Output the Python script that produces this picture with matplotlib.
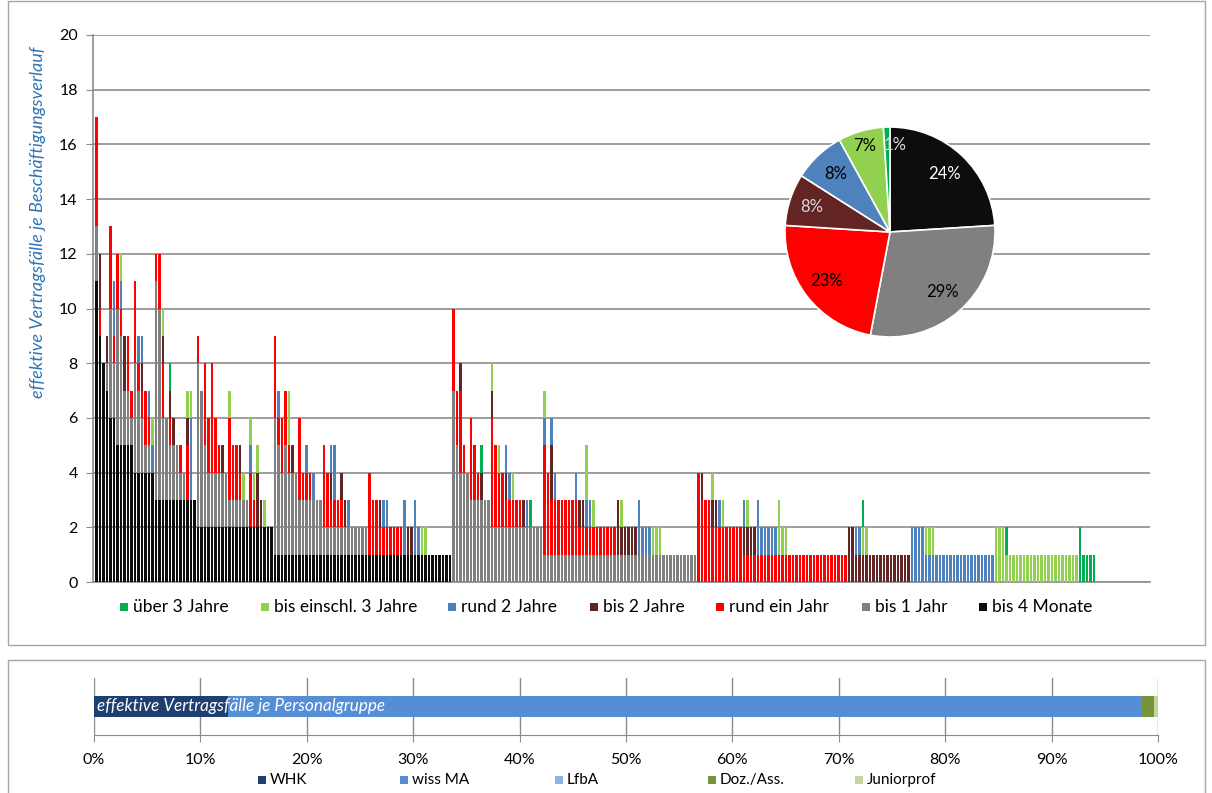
import matplotlib
matplotlib.use("Agg")
import matplotlib.pyplot as plt
from matplotlib.patches import Rectangle
import numpy as np

plt.rcParams['font.family'] = ['Lato', 'DejaVu Sans']

# ---------------------------------------------------------------------------
# Data: effective contract cases per employment history, one bar per history
# ---------------------------------------------------------------------------
series_names = ["bis 4 Monate", "bis 1 Jahr", "rund ein Jahr", "bis 2 Jahre",
                "rund 2 Jahre", "bis einschl. 3 Jahre", "über 3 Jahre"]
series_colors = ["#0d0d0d", "#808080", "#ff0000", "#632523",
                 "#4f81bd", "#92d050", "#00b050"]

bis_4_monate = [
    11, 9, 8, 7, 6, 6, 5, 5, 5, 5, 5, 4, 4, 4, 4, 4, 4, 3, 3, 3,
    3, 3, 3, 3, 3, 3, 3, 3, 3, 2, 2, 2, 2, 2, 2, 2, 2, 2, 2, 2,
    2, 2, 2, 2, 2, 2, 2, 2, 2, 2, 2, 1, 1, 1, 1, 1, 1, 1, 1, 1,
    1, 1, 1, 1, 1, 1, 1, 1, 1, 1, 1, 1, 1, 1, 1, 1, 1, 1, 1, 1,
    1, 1, 1, 1, 1, 1, 1, 1, 1, 1, 1, 1, 1, 1, 1, 1, 1, 1, 1, 1,
    1, 1, 0, 0, 0, 0, 0, 0, 0, 0, 0, 0, 0, 0, 0, 0, 0, 0, 0, 0,
    0, 0, 0, 0, 0, 0, 0, 0, 0, 0, 0, 0, 0, 0, 0, 0, 0, 0, 0, 0,
    0, 0, 0, 0, 0, 0, 0, 0, 0, 0, 0, 0, 0, 0, 0, 0, 0, 0, 0, 0,
    0, 0, 0, 0, 0, 0, 0, 0, 0, 0, 0, 0, 0, 0, 0, 0, 0, 0, 0, 0,
    0, 0, 0, 0, 0, 0, 0, 0, 0, 0, 0, 0, 0, 0, 0, 0, 0, 0, 0, 0,
    0, 0, 0, 0, 0, 0, 0, 0, 0, 0, 0, 0, 0, 0, 0, 0, 0, 0, 0, 0,
    0, 0, 0, 0, 0, 0, 0, 0, 0, 0, 0, 0, 0, 0, 0, 0, 0, 0, 0, 0,
    0, 0, 0, 0, 0, 0, 0, 0, 0, 0, 0, 0, 0, 0, 0, 0, 0, 0, 0, 0,
    0, 0, 0, 0, 0, 0, 0, 0, 0, 0, 0, 0, 0, 0, 0, 0, 0, 0, 0, 0,
    0, 0, 0, 0, 0, 0,
]
bis_1_jahr = [
    2, 0, 0, 1, 4, 2, 5, 4, 2, 2, 1, 4, 3, 2, 1, 1, 0, 8, 7, 3,
    3, 2, 2, 2, 1, 1, 0, 0, 0, 6, 5, 3, 2, 2, 2, 2, 2, 2, 1, 1,
    1, 1, 1, 1, 0, 0, 0, 0, 0, 0, 0, 5, 4, 3, 4, 3, 3, 3, 2, 2,
    2, 2, 2, 2, 2, 1, 1, 1, 1, 1, 1, 1, 1, 1, 1, 1, 1, 1, 0, 0,
    0, 0, 0, 0, 0, 0, 0, 0, 0, 0, 0, 0, 0, 0, 0, 0, 0, 0, 0, 0,
    0, 0, 7, 5, 4, 4, 4, 3, 3, 3, 3, 3, 3, 2, 2, 2, 2, 2, 2, 2,
    2, 2, 2, 2, 2, 2, 2, 2, 1, 1, 1, 1, 1, 1, 1, 1, 1, 1, 1, 1,
    1, 1, 1, 1, 1, 1, 1, 1, 1, 1, 1, 1, 1, 1, 1, 1, 1, 1, 1, 1,
    1, 1, 1, 1, 1, 1, 1, 1, 1, 1, 1, 1, 0, 0, 0, 0, 0, 0, 0, 0,
    0, 0, 0, 0, 0, 0, 0, 0, 0, 0, 0, 0, 0, 0, 0, 0, 0, 0, 0, 0,
    0, 0, 0, 0, 0, 0, 0, 0, 0, 0, 0, 0, 0, 0, 0, 0, 0, 0, 0, 0,
    0, 0, 0, 0, 0, 0, 0, 0, 0, 0, 0, 0, 0, 0, 0, 0, 0, 0, 0, 0,
    0, 0, 0, 0, 0, 0, 0, 0, 0, 0, 0, 0, 0, 0, 0, 0, 0, 0, 0, 0,
    0, 0, 0, 0, 0, 0, 0, 0, 0, 0, 0, 0, 0, 0, 0, 0, 0, 0, 0, 0,
    0, 0, 0, 0, 0, 0,
]
rund_ein_jahr = [
    4, 1, 0, 0, 3, 1, 2, 1, 0, 2, 1, 3, 1, 1, 2, 1, 0, 1, 2, 2,
    0, 1, 0, 0, 1, 0, 2, 0, 0, 1, 0, 3, 2, 4, 2, 1, 0, 0, 3, 2,
    2, 1, 0, 0, 2, 1, 0, 0, 0, 0, 0, 3, 1, 2, 2, 1, 0, 0, 3, 1,
    1, 1, 0, 0, 0, 3, 2, 1, 1, 1, 1, 0, 0, 0, 0, 0, 0, 0, 3, 2,
    2, 1, 1, 1, 1, 1, 1, 1, 0, 0, 0, 0, 0, 0, 0, 0, 0, 0, 0, 0,
    0, 0, 3, 2, 3, 1, 0, 3, 2, 1, 0, 0, 0, 4, 3, 2, 2, 1, 1, 1,
    1, 1, 0, 0, 0, 0, 0, 0, 4, 3, 2, 2, 2, 2, 2, 2, 2, 2, 1, 1,
    1, 1, 1, 1, 1, 1, 1, 1, 1, 0, 0, 0, 0, 0, 0, 0, 0, 0, 0, 0,
    0, 0, 0, 0, 0, 0, 0, 0, 0, 0, 0, 0, 4, 3, 3, 3, 2, 2, 2, 2,
    2, 2, 2, 2, 2, 1, 1, 1, 1, 1, 1, 1, 1, 1, 1, 1, 1, 1, 1, 1,
    1, 1, 1, 1, 1, 1, 1, 1, 1, 1, 1, 1, 1, 1, 1, 0, 0, 0, 0, 0,
    0, 0, 0, 0, 0, 0, 0, 0, 0, 0, 0, 0, 0, 0, 0, 0, 0, 0, 0, 0,
    0, 0, 0, 0, 0, 0, 0, 0, 0, 0, 0, 0, 0, 0, 0, 0, 0, 0, 0, 0,
    0, 0, 0, 0, 0, 0, 0, 0, 0, 0, 0, 0, 0, 0, 0, 0, 0, 0, 0, 0,
    0, 0, 0, 0, 0, 0,
]
bis_2_jahre = [
    0, 2, 0, 1, 0, 0, 0, 0, 2, 0, 0, 0, 0, 1, 0, 0, 0, 0, 0, 1,
    0, 1, 1, 0, 0, 0, 1, 0, 0, 0, 0, 0, 0, 0, 0, 0, 1, 0, 0, 0,
    0, 1, 0, 0, 0, 0, 2, 1, 0, 0, 0, 0, 0, 0, 0, 0, 1, 0, 0, 0,
    0, 0, 0, 0, 0, 0, 0, 1, 0, 0, 1, 1, 0, 0, 0, 0, 0, 0, 0, 0,
    0, 1, 0, 0, 0, 0, 0, 0, 0, 1, 1, 0, 0, 0, 0, 0, 0, 0, 0, 0,
    0, 0, 0, 0, 1, 0, 0, 0, 0, 0, 1, 0, 0, 1, 0, 0, 0, 1, 0, 0,
    0, 0, 1, 0, 0, 0, 0, 0, 0, 0, 2, 0, 0, 0, 0, 0, 0, 0, 1, 1,
    0, 0, 0, 0, 0, 0, 0, 0, 0, 2, 1, 1, 1, 1, 1, 0, 0, 0, 0, 0,
    0, 0, 0, 0, 0, 0, 0, 0, 0, 0, 0, 0, 0, 1, 0, 0, 1, 1, 0, 0,
    0, 0, 0, 0, 0, 1, 1, 1, 1, 0, 0, 0, 0, 0, 0, 0, 0, 0, 0, 0,
    0, 0, 0, 0, 0, 0, 0, 0, 0, 0, 0, 0, 0, 0, 0, 2, 2, 1, 1, 1,
    1, 1, 1, 1, 1, 1, 1, 1, 1, 1, 1, 1, 1, 0, 0, 0, 0, 0, 0, 0,
    0, 0, 0, 0, 0, 0, 0, 0, 0, 0, 0, 0, 0, 0, 0, 0, 0, 0, 0, 0,
    0, 0, 0, 0, 0, 0, 0, 0, 0, 0, 0, 0, 0, 0, 0, 0, 0, 0, 0, 0,
    0, 0, 0, 0, 0, 0,
]
rund_2_jahre = [
    0, 0, 0, 0, 0, 2, 0, 1, 0, 0, 0, 0, 1, 1, 0, 1, 1, 0, 0, 0,
    0, 0, 0, 0, 0, 0, 0, 3, 0, 0, 0, 0, 0, 0, 0, 0, 0, 0, 0, 0,
    0, 0, 0, 0, 1, 0, 0, 0, 0, 0, 0, 0, 1, 0, 0, 0, 0, 0, 0, 0,
    1, 0, 1, 0, 0, 0, 0, 1, 2, 0, 0, 0, 1, 0, 0, 0, 0, 0, 0, 0,
    0, 0, 1, 1, 0, 0, 0, 0, 2, 0, 0, 2, 1, 0, 0, 0, 0, 0, 0, 0,
    0, 0, 0, 0, 0, 0, 0, 0, 0, 0, 0, 0, 0, 0, 0, 0, 0, 1, 1, 0,
    0, 0, 0, 1, 0, 0, 0, 0, 1, 0, 1, 1, 0, 0, 0, 0, 0, 1, 0, 0,
    1, 1, 0, 0, 0, 0, 0, 0, 0, 0, 0, 0, 0, 0, 0, 2, 1, 1, 1, 0,
    0, 0, 0, 0, 0, 0, 0, 0, 0, 0, 0, 0, 0, 0, 0, 0, 0, 0, 1, 0,
    0, 0, 0, 0, 0, 1, 0, 0, 0, 2, 1, 1, 1, 1, 1, 0, 0, 0, 0, 0,
    0, 0, 0, 0, 0, 0, 0, 0, 0, 0, 0, 0, 0, 0, 0, 0, 0, 1, 1, 0,
    0, 0, 0, 0, 0, 0, 0, 0, 0, 0, 0, 0, 0, 2, 2, 2, 2, 1, 1, 1,
    1, 1, 1, 1, 1, 1, 1, 1, 1, 1, 1, 1, 1, 1, 1, 1, 1, 0, 0, 0,
    0, 0, 0, 0, 0, 0, 0, 0, 0, 0, 0, 0, 0, 0, 0, 0, 0, 0, 0, 0,
    0, 0, 0, 0, 0, 0,
]
bis_einschl_3_jahre = [
    0, 0, 0, 0, 0, 0, 0, 1, 0, 0, 0, 0, 0, 0, 0, 0, 1, 0, 0, 1,
    0, 0, 0, 0, 0, 0, 1, 1, 0, 0, 0, 0, 0, 0, 0, 0, 0, 0, 1, 0,
    0, 0, 1, 0, 1, 1, 1, 0, 1, 0, 0, 0, 0, 0, 0, 2, 0, 0, 0, 0,
    0, 0, 0, 0, 0, 0, 0, 0, 0, 0, 0, 0, 0, 0, 0, 0, 0, 0, 0, 0,
    0, 0, 0, 0, 0, 0, 0, 0, 0, 0, 0, 0, 0, 1, 1, 0, 0, 0, 0, 0,
    0, 0, 0, 0, 0, 0, 0, 0, 0, 0, 0, 0, 0, 1, 0, 1, 0, 0, 0, 1,
    0, 0, 0, 0, 0, 0, 0, 0, 1, 0, 0, 0, 0, 0, 0, 0, 0, 0, 0, 0,
    2, 0, 1, 0, 0, 0, 0, 0, 0, 0, 1, 0, 0, 0, 0, 0, 0, 0, 0, 1,
    1, 1, 0, 0, 0, 0, 0, 0, 0, 0, 0, 0, 0, 0, 0, 0, 1, 0, 0, 1,
    0, 0, 0, 0, 0, 0, 1, 0, 0, 0, 0, 0, 0, 0, 0, 2, 1, 1, 0, 0,
    0, 0, 0, 0, 0, 0, 0, 0, 0, 0, 0, 0, 0, 0, 0, 0, 0, 0, 0, 1,
    1, 0, 0, 0, 0, 0, 0, 0, 0, 0, 0, 0, 0, 0, 0, 0, 0, 1, 1, 1,
    0, 0, 0, 0, 0, 0, 0, 0, 0, 0, 0, 0, 0, 0, 0, 0, 0, 2, 2, 2,
    1, 1, 1, 1, 1, 1, 1, 1, 1, 1, 1, 1, 1, 1, 1, 1, 1, 1, 1, 1,
    1, 0, 0, 0, 0, 0,
]
ueber_3_jahre = [
    0, 0, 0, 0, 0, 0, 0, 0, 0, 0, 0, 0, 0, 0, 0, 0, 0, 0, 0, 0,
    0, 1, 0, 0, 0, 0, 0, 0, 0, 0, 0, 0, 0, 0, 0, 0, 0, 0, 0, 0,
    0, 0, 0, 0, 0, 0, 0, 0, 0, 0, 0, 0, 0, 0, 0, 0, 0, 0, 0, 0,
    0, 0, 0, 0, 0, 0, 0, 0, 0, 0, 0, 0, 0, 0, 0, 0, 0, 0, 0, 0,
    0, 0, 0, 0, 0, 0, 0, 0, 0, 0, 0, 0, 0, 0, 0, 0, 0, 0, 0, 0,
    0, 0, 0, 0, 0, 0, 0, 0, 0, 0, 1, 0, 0, 0, 0, 0, 0, 0, 0, 0,
    0, 0, 0, 0, 1, 0, 0, 0, 0, 0, 0, 0, 0, 0, 0, 0, 0, 0, 0, 0,
    0, 0, 0, 0, 0, 0, 0, 0, 0, 0, 0, 0, 0, 0, 0, 0, 0, 0, 0, 0,
    0, 0, 0, 0, 0, 0, 0, 0, 0, 0, 0, 0, 0, 0, 0, 0, 0, 0, 0, 0,
    0, 0, 0, 0, 0, 0, 0, 0, 0, 0, 0, 0, 0, 0, 0, 0, 0, 0, 0, 0,
    0, 0, 0, 0, 0, 0, 0, 0, 0, 0, 0, 0, 0, 0, 0, 0, 0, 0, 0, 1,
    0, 0, 0, 0, 0, 0, 0, 0, 0, 0, 0, 0, 0, 0, 0, 0, 0, 0, 0, 0,
    0, 0, 0, 0, 0, 0, 0, 0, 0, 0, 0, 0, 0, 0, 0, 0, 0, 0, 0, 0,
    1, 0, 0, 0, 0, 0, 0, 0, 0, 0, 0, 0, 0, 0, 0, 0, 0, 0, 0, 0,
    0, 2, 1, 1, 1, 1,
]

# Share of all contract cases per duration class (pie)
pie_shares = [24, 29, 23, 8, 8, 7, 1]
pie_text_colors = ["white", "black", "black", "#d9d9d9", "black", "black", "#d9d9d9"]

# Share of contract cases per staff group (bottom bar)
group_names = ["WHK", "wiss MA", "LfbA", "Doz./Ass.", "Juniorprof"]
group_colors = ["#1f3f70", "#558ed5", "#8db3e2", "#77933c", "#c3d69b"]
group_shares = [12.6, 85.9, 0.0, 1.1, 0.4]

# ---------------------------------------------------------------------------
W, H = 1212, 793
fig = plt.figure(figsize=(W / 100, H / 100), dpi=100)


def fx(px):
    return px / W


def fy(py):
    return 1 - py / H


frame_col = "#a6a6a6"
fig.patches.append(Rectangle((fx(8), fy(645)), fx(1205) - fx(8), fy(1) - fy(645),
                             transform=fig.transFigure, fill=False,
                             edgecolor=frame_col, linewidth=1))
fig.patches.append(Rectangle((fx(8), fy(800)), fx(1205) - fx(8), fy(660) - fy(800),
                             transform=fig.transFigure, fill=False,
                             edgecolor=frame_col, linewidth=1))

# ---------------- main stacked bar chart ----------------
ax = fig.add_axes([fx(93), fy(582), (1150 - 93) / W, (582 - 35) / H])
all_series = [bis_4_monate, bis_1_jahr, rund_ein_jahr, bis_2_jahre,
              rund_2_jahre, bis_einschl_3_jahre, ueber_3_jahre]
n = len(bis_4_monate)
x = np.arange(n)
bottom = np.zeros(n)
for vals, col in zip(all_series, series_colors):
    v = np.array(vals, dtype=float)
    ax.bar(x, v, bottom=bottom, width=0.6, color=col, linewidth=0, zorder=3)
    bottom += v

ax.set_xlim(-1, 301)
ax.set_ylim(0, 20)
ax.set_yticks(range(0, 21, 2))
ax.set_xticks([])
ax.yaxis.grid(True, color="#8c8c8c", linewidth=1.2, zorder=0)
ax.set_axisbelow(True)
for s in ["top", "right"]:
    ax.spines[s].set_visible(False)
ax.spines["left"].set_color("#8c8c8c")
ax.spines["bottom"].set_color("#8c8c8c")
ax.spines["left"].set_linewidth(1.2)
ax.spines["bottom"].set_linewidth(1.2)
ax.tick_params(axis="y", length=5, color="#8c8c8c", labelsize=11.5, pad=6)

fig.text(fx(38), fy(222), "effektive Vertragsfälle je Beschäftigungsverlauf",
         rotation=90, ha="center", va="center", fontsize=13,
         style="italic", color="#2e75b6")

# legend of the main chart
leg_items = [(124, "über 3 Jahre", 6), (265, "bis einschl. 3 Jahre", 5),
             (452, "rund 2 Jahre", 4), (594, "bis 2 Jahre", 3),
             (720, "rund ein Jahr", 2), (866, "bis 1 Jahr", 1),
             (983, "bis 4 Monate", 0)]
for px, label, idx in leg_items:
    fig.patches.append(Rectangle((fx(px - 4), fy(611)), 8 / W, 8 / H,
                                 transform=fig.transFigure,
                                 facecolor=series_colors[idx], edgecolor="none"))
    fig.text(fx(px + 9), fy(607), label, ha="left", va="center", fontsize=12.5)

# ---------------- pie chart ----------------
pax = fig.add_axes([fx(785), fy(337), 210 / W, 210 / H])
wedges, _ = pax.pie(pie_shares, colors=series_colors, startangle=90,
                    counterclock=False, radius=1.0,
                    wedgeprops=dict(edgecolor="white", linewidth=1.2))
pax.set_xlim(-1.0, 1.0)
pax.set_ylim(-1.0, 1.0)
pax.set_aspect("equal")
start = 90.0
total = sum(pie_shares)
label_radius = [0.76, 0.76, 0.76, 0.78, 0.76, 0.85, 0.83]
for val, tcol, r in zip(pie_shares, pie_text_colors, label_radius):
    span = 360.0 * val / total
    mid = start - span / 2
    if val < 2:
        mid -= 5.0
    a = np.deg2rad(mid)
    pax.text(r * np.cos(a), r * np.sin(a), f"{val}%", ha="center",
             va="center", fontsize=12, color=tcol)
    start -= span

# ---------------- staff-group bar ----------------
bax = fig.add_axes([fx(94), fy(735), (1158 - 94) / W, (735 - 678) / H])
left = 0.0
for val, col in zip(group_shares, group_colors):
    bax.barh(0, val, left=left, height=0.37, color=col, linewidth=0, zorder=3)
    left += val
bax.set_xlim(0, 100)
bax.set_ylim(-0.5, 0.5)
bax.set_xticks(range(0, 101, 10))
bax.set_xticklabels([f"{t}%" for t in range(0, 101, 10)])
bax.set_yticks([])
bax.xaxis.grid(True, color="#8c8c8c", linewidth=1, zorder=0)
for s in ["top", "right", "left"]:
    bax.spines[s].set_visible(False)
bax.spines["bottom"].set_color("#8c8c8c")
bax.tick_params(axis="x", length=5, color="#8c8c8c", labelsize=11.5, pad=8)
bax.text(0.3, 0.0, "effektive Vertragsfälle je Personalgruppe", ha="left",
         va="center", fontsize=12.3, style="italic", color="white", zorder=4)

bleg = [(262, 0), (404, 1), (559, 2), (712, 3), (859, 4)]
for px, idx in bleg:
    fig.patches.append(Rectangle((fx(px - 4), fy(784)), 8 / W, 8 / H,
                                 transform=fig.transFigure,
                                 facecolor=group_colors[idx], edgecolor="none"))
    fig.text(fx(px + 8), fy(780), group_names[idx], ha="left", va="center",
             fontsize=11)

fig.savefig("out.png", dpi=100)
